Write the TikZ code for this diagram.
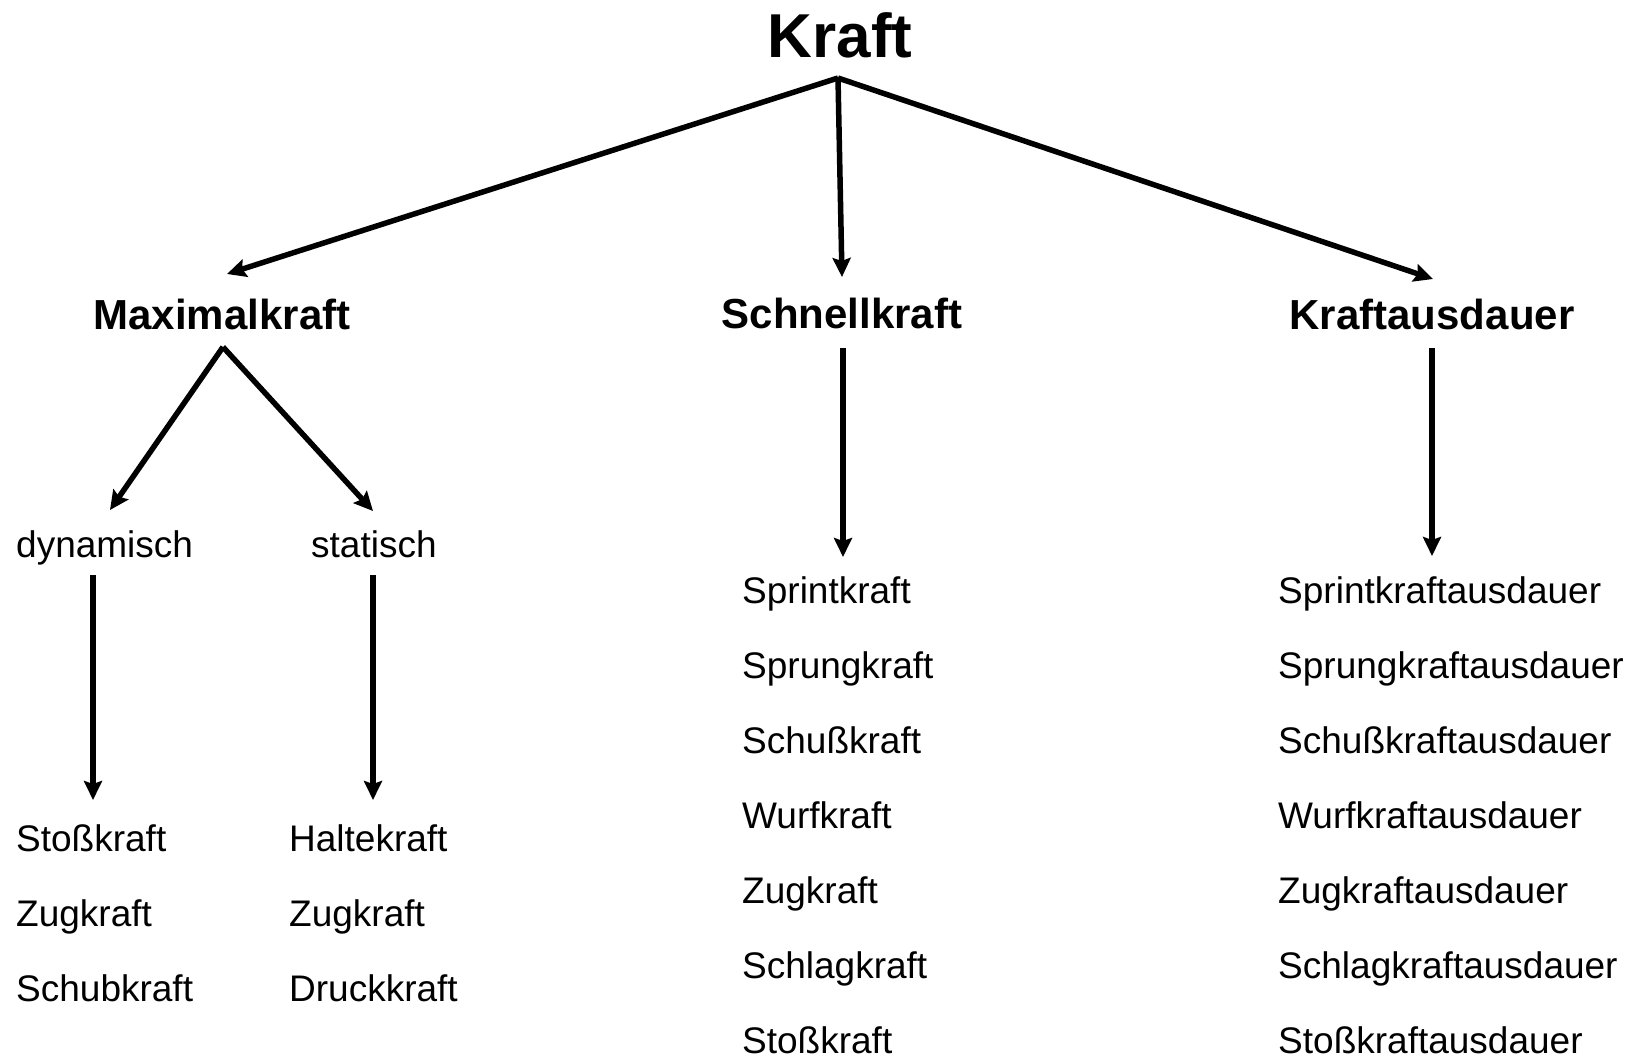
\documentclass[tikz,border=0pt]{standalone}
\usepackage{fontspec}
\setmainfont{Liberation Sans}
\usetikzlibrary{arrows.meta}
\begin{document}
\begin{tikzpicture}[x=1pt,y=-1pt,
  titlebox/.style={font=\fontsize{62pt}{70pt}\selectfont\bfseries, inner sep=0pt, anchor=base},
  headbox/.style={font=\fontsize{42pt}{50pt}\selectfont\bfseries, inner sep=0pt, anchor=base},
  itembox/.style={font=\fontsize{37pt}{44pt}\selectfont, inner sep=0pt, anchor=base west},
  arr/.style={line width=5.5pt, -{Stealth[width=18pt,length=19pt,inset=3pt]}}]
\useasboundingbox (0,0) rectangle (1636,1061);
\node[titlebox] (kraft) at (840,57) {Kraft};
\node[headbox] (maxk) at (222,329) {Maximalkraft};
\node[headbox] (schnell) at (842,328) {Schnellkraft};
\node[headbox] (ausd) at (1432,329) {Kraftausdauer};
\node[itembox] (dyn) at (16,557) {dynamisch};
\node[itembox] (stat) at (311,557) {statisch};
\node[itembox] (l1) at (16,851) {Stoßkraft};
\node[itembox] (l2) at (16,926) {Zugkraft};
\node[itembox] (l3) at (16,1001) {Schubkraft};
\node[itembox] (h1) at (289,851) {Haltekraft};
\node[itembox] (h2) at (289,926) {Zugkraft};
\node[itembox] (h3) at (289,1001) {Druckkraft};
\node[itembox] (m1) at (742,603) {Sprintkraft};
\node[itembox] (m2) at (742,678) {Sprungkraft};
\node[itembox] (m3) at (742,753) {Schußkraft};
\node[itembox] (m4) at (742,828) {Wurfkraft};
\node[itembox] (m5) at (742,903) {Zugkraft};
\node[itembox] (m6) at (742,978) {Schlagkraft};
\node[itembox] (m7) at (742,1053) {Stoßkraft};
\node[itembox] (r1) at (1278,603) {Sprintkraftausdauer};
\node[itembox] (r2) at (1278,678) {Sprungkraftausdauer};
\node[itembox] (r3) at (1278,753) {Schußkraftausdauer};
\node[itembox] (r4) at (1278,828) {Wurfkraftausdauer};
\node[itembox] (r5) at (1278,903) {Zugkraftausdauer};
\node[itembox] (r6) at (1278,978) {Schlagkraftausdauer};
\node[itembox] (r7) at (1278,1053) {Stoßkraftausdauer};
% top arrows
\draw[arr] ([xshift=-2pt,yshift=-21pt]kraft.base) -- ([xshift=5pt,yshift=55pt]maxk.base);
\draw[arr] ([xshift=-2pt,yshift=-21pt]kraft.base) -- ([yshift=51pt]schnell.base);
\draw[arr] ([xshift=-2pt,yshift=-21pt]kraft.base) -- ([xshift=1pt,yshift=50pt]ausd.base);
% Maximalkraft branches
\draw[arr] ([xshift=1pt,yshift=-18pt]maxk.base) -- ([xshift=94pt,yshift=47pt]dyn.base west);
\draw[arr] ([xshift=1pt,yshift=-18pt]maxk.base) -- ([xshift=62pt,yshift=46pt]stat.base west);
\draw[arr] ([xshift=77pt,yshift=-18pt]dyn.base west) -- ([xshift=77pt,yshift=51pt]l1.base west);
\draw[arr] ([xshift=62pt,yshift=-18pt]stat.base west) -- ([xshift=84pt,yshift=51pt]h1.base west);
% Schnellkraft and Kraftausdauer
\draw[arr] ([xshift=1pt,yshift=-20pt]schnell.base) -- ([xshift=101pt,yshift=46pt]m1.base west);
\draw[arr] ([yshift=-19pt]ausd.base) -- ([xshift=154pt,yshift=47pt]r1.base west);
\end{tikzpicture}
\end{document}
